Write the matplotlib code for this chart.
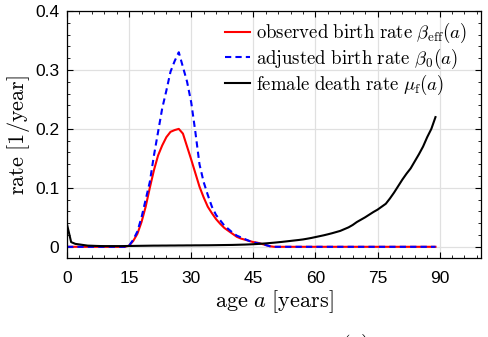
import numpy as np
import matplotlib
matplotlib.use("Agg")
import matplotlib.pyplot as plt
from matplotlib.ticker import MultipleLocator, FuncFormatter

plt.rcParams['mathtext.fontset'] = 'cm'
plt.rcParams['font.family'] = ['Liberation Sans', 'DejaVu Sans']

# ages 0..89
ages = np.arange(0, 90)

# birth rates for ages 15..49 (zero elsewhere)
fert_ages = np.arange(15, 50)
beta_eff_fert = [0.002, 0.010, 0.022, 0.042, 0.068, 0.100, 0.130, 0.155, 0.172, 0.186,
                 0.195, 0.198, 0.200, 0.192, 0.170, 0.148, 0.125, 0.102, 0.084, 0.068,
                 0.057, 0.047, 0.039, 0.032, 0.027, 0.022, 0.017, 0.014, 0.012, 0.010,
                 0.008, 0.007, 0.005, 0.003, 0.001]
beta0_fert = [0.002, 0.012, 0.026, 0.050, 0.080, 0.110, 0.155, 0.195, 0.235, 0.265,
              0.297, 0.315, 0.330, 0.305, 0.280, 0.245, 0.195, 0.140, 0.110, 0.088,
              0.068, 0.054, 0.045, 0.036, 0.030, 0.024, 0.019, 0.016, 0.013, 0.010,
              0.008, 0.006, 0.005, 0.003, 0.001]

mu_f = [0.038, 0.008, 0.005, 0.004, 0.003, 0.002, 0.0018, 0.0015, 0.0013, 0.0012,
        0.0012, 0.0012, 0.0012, 0.0012, 0.0013, 0.0014, 0.0015, 0.0016, 0.0017, 0.0018,
        0.0019, 0.0020, 0.0020, 0.0021, 0.0021, 0.0022, 0.0022, 0.0023, 0.0023, 0.0024,
        0.0024, 0.0025, 0.0025, 0.0026, 0.0026, 0.0027, 0.0028, 0.0029, 0.0030, 0.0031,
        0.0032, 0.0034, 0.0036, 0.0038, 0.0041, 0.0044, 0.0048, 0.0053, 0.0058, 0.0064,
        0.0070, 0.0077, 0.0084, 0.0092, 0.0100, 0.0108, 0.0116, 0.0125, 0.0137, 0.0150,
        0.0165, 0.0180, 0.0195, 0.0212, 0.0230, 0.0250, 0.0270, 0.0300, 0.0330, 0.0370,
        0.0420, 0.0460, 0.0500, 0.0545, 0.0590, 0.0630, 0.0680, 0.0730, 0.0820, 0.0920,
        0.1030, 0.1140, 0.1240, 0.1330, 0.1450, 0.1570, 0.1700, 0.1860, 0.2000, 0.2200]

beta_eff = np.zeros(len(ages))
beta0 = np.zeros(len(ages))
beta_eff[fert_ages] = beta_eff_fert
beta0[fert_ages] = beta0_fert

fig = plt.figure(figsize=(4.88, 3.37), dpi=100)
ax = fig.add_axes([0.1373, 0.2344, 0.8484, 0.733])

ax.plot(ages, beta_eff, color='red', lw=1.5,
        label=r'$\mathrm{observed\ birth\ rate}\ \beta_{\mathrm{eff}}(a)$')
ax.plot(ages, beta0, color='blue', lw=1.5, linestyle=(0, (3, 2)),
        label=r'$\mathrm{adjusted\ birth\ rate}\ \beta_0(a)$')
ax.plot(ages, mu_f, color='black', lw=1.5,
        label=r'$\mathrm{female\ death\ rate}\ \mu_{\mathrm{f}}(a)$')

ax.set_xlim(0, 100)
ax.set_ylim(-0.019, 0.4)
ax.set_xticks([0, 15, 30, 45, 60, 75, 90])
ax.set_yticks([0, 0.1, 0.2, 0.3, 0.4])
ax.xaxis.set_minor_locator(MultipleLocator(3))
ax.yaxis.set_minor_locator(MultipleLocator(0.02))
ax.yaxis.set_major_formatter(FuncFormatter(lambda v, p: '0' if abs(v) < 1e-9 else f'{v:.1f}'))
ax.tick_params(which='both', direction='in', top=True, right=True, labelsize=12.5)
ax.tick_params(axis='x', which='major', pad=9)
ax.tick_params(axis='y', which='major', pad=5.5)
ax.tick_params(which='major', length=4, width=0.8)
ax.tick_params(which='minor', length=2.5, width=0.6)
ax.grid(True, which='major', color='#e0e0e0', lw=0.9)
ax.set_axisbelow(True)
for s in ax.spines.values():
    s.set_linewidth(0.9)

ax.set_xlabel(r'$\mathrm{age}\ a\ \mathrm{[years]}$', fontsize=16, labelpad=2)
ax.set_ylabel(r'$\mathrm{rate\ [1/year]}$', fontsize=16, labelpad=2)

ax.legend(loc='upper right', frameon=False, fontsize=13.5, handlelength=1.35,
          handletextpad=0.3, labelspacing=0.08, borderaxespad=0.15,
          bbox_to_anchor=(0.99, 1.0))

fig.text(355 / 488, (337 - 332) / 337, r'$\mathrm{(a)}$', fontsize=16, ha='center', va='top')

fig.savefig('out.png', dpi=100)
